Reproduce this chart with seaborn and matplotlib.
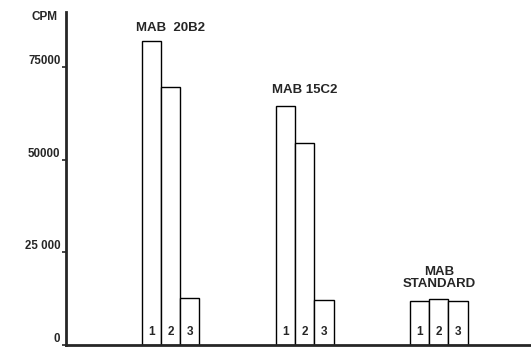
import matplotlib
matplotlib.use("Agg")
import matplotlib.pyplot as plt
import matplotlib.transforms as mtransforms
import seaborn as sns
import pandas as pd

groups = ["MAB  20B2", "MAB 15C2", "MAB\nSTANDARD"]
samples = ["1", "2", "3"]
cpm_20b2 = [82000, 69600, 12700]
cpm_15c2 = [64500, 54500, 12100]
cpm_std = [11900, 12400, 11900]
ytick_vals = [0, 25000, 50000, 75000]
ytick_labels = ["0", "25 000", "50000", "75000"]

rows = []
for g, vals in zip(groups, [cpm_20b2, cpm_15c2, cpm_std]):
    for s, v in zip(samples, vals):
        rows.append({"group": g, "sample": s, "cpm": v})
df = pd.DataFrame(rows)

sns.set_style("white")
plt.rcParams["font.family"] = ["Liberation Sans", "DejaVu Sans"]
plt.rcParams["font.weight"] = "bold"

fig = plt.figure(figsize=(5.31, 3.48), dpi=100)
ax = fig.add_axes([66 / 531, 3 / 348, (530 - 66) / 531, (345 - 12) / 348])

sns.barplot(data=df, x="group", y="cpm", hue="sample", order=groups,
            hue_order=samples, palette=["white"] * 3, edgecolor="black",
            linewidth=1.0, width=0.43, gap=0, ax=ax, legend=False)

ax.set_xlim(-0.78, 2.68)
ax.set_ylim(0, 89800)
ax.set_xlabel("")
ax.set_ylabel("")
ax.set_xticks([])
ax.set_yticks(ytick_vals)
ax.set_yticklabels(ytick_labels, fontsize=8.3, fontweight="bold")
for lab in ax.get_yticklabels():
    lab.set_va("bottom")
ax.tick_params(axis="y", direction="out", length=3, width=1.2, pad=1, left=True)

for side in ["top", "right"]:
    ax.spines[side].set_visible(False)
ax.spines["left"].set_linewidth(2)
ax.spines["bottom"].set_linewidth(2)

# numbers inside bars
bars = sorted(ax.patches[:9], key=lambda p: p.get_x())
for i, p in enumerate(bars):
    cx = p.get_x() + p.get_width() / 2
    ax.text(cx, 2000, samples[i % 3], ha="center", va="bottom",
            fontsize=8.5, fontweight="bold")

# group labels (baseline positions)
label_y = [84800, 68000, 15600]
for gi, (g, ly) in enumerate(zip(groups, label_y)):
    ax.text(gi, ly, g, ha="center", va="baseline",
            fontsize=9.5, fontweight="bold", linespacing=1.05)

trans = mtransforms.blended_transform_factory(fig.transFigure, ax.transData)
ax.text(57 / 531, 88500, "CPM", transform=trans, ha="right", va="center",
        fontsize=8.5, fontweight="bold", clip_on=False)

fig.savefig("out.png", dpi=100)
